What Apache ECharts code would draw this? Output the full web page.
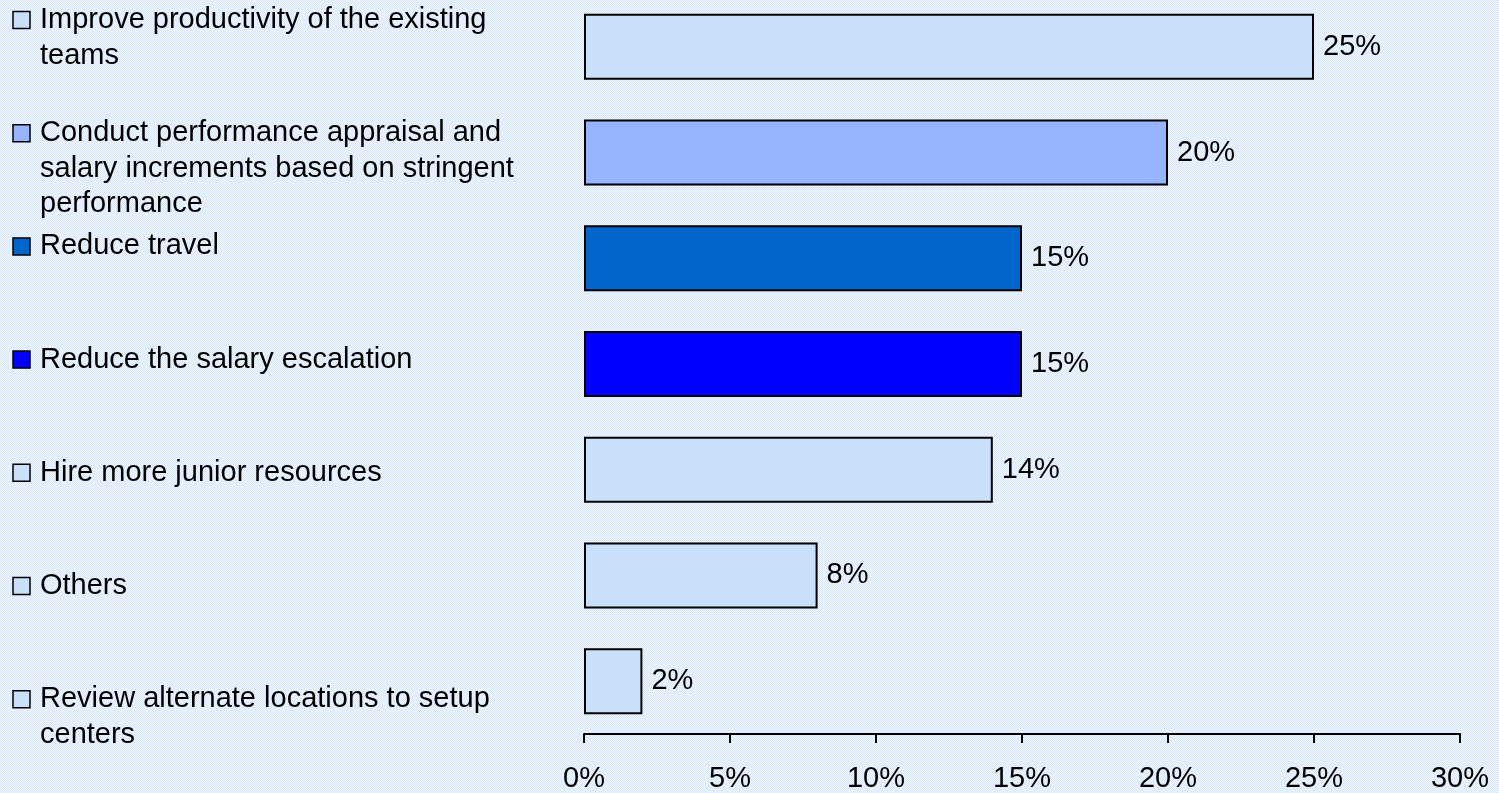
<!DOCTYPE html>
<html>
<head>
<meta charset="utf-8">
<script src="https://cdn.jsdelivr.net/npm/echarts@6/dist/echarts.min.js"></script>
<style>
  html, body { margin: 0; padding: 0; }
  #chart { width: 1499px; height: 793px; }
</style>
</head>
<body>
<div id="chart"></div>
<script>
// Cost-reduction measures and the share of respondents choosing each
const categories = [
  'Improve productivity of the existing teams',
  'Conduct performance appraisal and salary increments based on stringent performance',
  'Reduce travel',
  'Reduce the salary escalation',
  'Hire more junior resources',
  'Others',
  'Review alternate locations to setup centers'
];
const values = [25, 20, 15, 15, 14, 8, 2];
const barColors = ['#C8E0FA', '#96B4FF', '#0066CC', '#0000FF', '#C8E0FA', '#C8E0FA', '#C8E0FA'];
const tickLabels = ['0%', '5%', '10%', '15%', '20%', '25%', '30%'];

const FONT_FAMILY = '"Liberation Sans", Arial, sans-serif';
const FONT_SIZE = 29;

// fine dotted backdrop
const tile = document.createElement('canvas');
tile.width = 2; tile.height = 2;
const tctx = tile.getContext('2d');
tctx.fillStyle = '#EEF5FE'; tctx.fillRect(0, 0, 2, 2);
tctx.fillStyle = '#D9E8FA'; tctx.fillRect(0, 0, 1, 1); tctx.fillRect(1, 1, 1, 1);

// one series per measure, stacked so each bar sits centred in its row
const series = categories.map((name, i) => ({
  name: name,
  type: 'bar',
  stack: 'all',
  barWidth: 66,
  data: categories.map((_, j) => (j === i ? values[i] : null)),
  itemStyle: { color: barColors[i], borderColor: '#000', borderWidth: 2 },
  label: {
    show: true,
    position: 'right',
    distance: 9,
    formatter: p => p.value + '%',
    color: '#000',
    fontFamily: FONT_FAMILY,
    fontSize: FONT_SIZE
  },
  silent: true
}));

// legend entries on the left
const legendGraphics = [];
categories.forEach((name, i) => {
  const cy = 20 + i * 113.2;
  legendGraphics.push({
    type: 'rect',
    shape: { x: 13, y: cy - 8.5, width: 17, height: 17 },
    style: { fill: barColors[i], stroke: '#000', lineWidth: 1.5 }
  });
  legendGraphics.push({
    type: 'text',
    x: 40,
    y: cy - 17.75,
    style: {
      text: name,
      width: 500,
      overflow: 'break',
      lineHeight: 35.5,
      fill: '#000',
      font: FONT_SIZE + 'px ' + FONT_FAMILY,
      verticalAlign: 'top',
      align: 'left'
    }
  });
});

const chart = echarts.init(document.getElementById('chart'), null, { renderer: 'canvas' });
chart.setOption({
  backgroundColor: { image: tile, repeat: 'repeat' },
  animation: false,
  grid: {
    left: 584, right: 39, top: -6, bottom: 59,
    containLabel: false,
    outerBoundsMode: 'none'
  },
  xAxis: {
    type: 'value',
    min: 0,
    max: 30,
    interval: 5,
    axisLine: { show: true, lineStyle: { color: '#000', width: 2 } },
    axisTick: { show: true, length: 9, lineStyle: { color: '#000', width: 2 } },
    splitLine: { show: false },
    axisLabel: {
      margin: 30,
      color: '#000',
      fontFamily: FONT_FAMILY,
      fontSize: FONT_SIZE,
      formatter: v => tickLabels[Math.round(v / 5)]
    }
  },
  yAxis: {
    type: 'category',
    data: categories,
    inverse: true,
    axisLine: { show: false },
    axisTick: { show: false },
    axisLabel: { show: false }
  },
  series: series,
  graphic: legendGraphics
});
</script>
</body>
</html>
